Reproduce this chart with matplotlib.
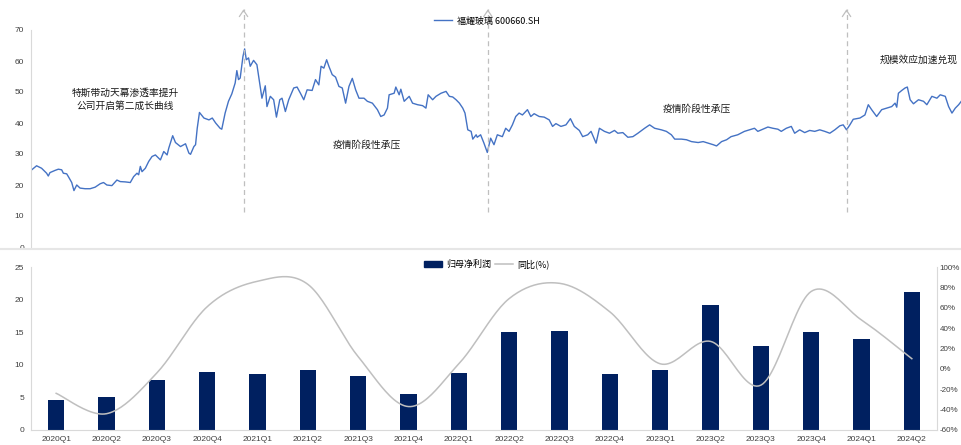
import numpy as np
import matplotlib
matplotlib.use("Agg")
import matplotlib.pyplot as plt
from matplotlib.lines import Line2D
from matplotlib.patches import Patch

plt.rcParams["font.family"] = ["Noto Sans CJK SC", "DejaVu Sans"]
NUM_FONT = "Liberation Sans"

# ---- 福耀玻璃 closing price (days counted from 2020-01-02) ----
trade_day = [
    0, 10, 19, 28, 31, 34, 43, 49, 55, 58, 64, 67, 73, 77, 82, 88, 97, 106, 115, 124,
    130, 136, 145, 154, 160, 169, 178, 184, 190, 193, 196, 199, 205, 211, 217, 223, 229, 232, 238, 244,
    247, 254, 259, 268, 277, 283, 286, 292, 295, 298, 302, 310, 319, 325, 331, 339, 342, 348, 354, 360,
    366, 369, 372, 375, 380, 383, 386, 390, 393, 399, 405, 410, 414, 420, 423, 429, 435, 440, 446, 450,
    456, 462, 471, 477, 483, 489, 495, 504, 510, 516, 520, 525, 530, 534, 540, 546, 552, 558, 564, 570,
    576, 582, 588, 597, 603, 612, 621, 627, 633, 639, 642, 651, 654, 660, 663, 669, 678, 684, 693, 702,
    708, 712, 720, 726, 735, 744, 750, 756, 762, 768, 774, 778, 783, 789, 792, 798, 800, 806,
    812, 818, 824, 830, 836, 845, 851, 857, 863, 869, 875, 881, 890, 896, 902, 911, 920, 929, 935, 941,
    950, 959, 967, 974, 983, 989, 998, 1004, 1013, 1019, 1028, 1037, 1046, 1052, 1061, 1070, 1079, 1088, 1100, 1109,
    1118, 1130, 1139, 1148, 1154, 1166, 1175, 1184, 1196, 1205, 1214, 1223, 1229, 1238, 1247, 1255, 1267, 1279, 1288, 1297,
    1303, 1312, 1321, 1330, 1339, 1345, 1354, 1363, 1369, 1378, 1387, 1396, 1405, 1414, 1423, 1432, 1441, 1450, 1456, 1462,
    1468, 1474, 1486, 1495, 1501, 1507, 1516, 1525, 1534, 1543, 1549, 1552, 1555, 1561, 1567, 1571, 1576, 1582, 1591, 1600,
    1606, 1615, 1624, 1630, 1639, 1645, 1651, 1657, 1663, 1669,
]
close_price = [
    24.7, 26.2, 25.4, 23.8, 22.9, 24.0, 24.7, 25.1, 24.9, 23.8, 23.6, 22.7, 20.8, 18.2, 20.0, 19.0, 18.8, 18.8, 19.3, 20.4,
    20.8, 20.0, 19.8, 21.6, 21.1, 21.0, 20.8, 22.7, 23.8, 23.3, 26.0, 24.3, 25.4, 27.6, 29.2, 29.7, 28.6, 28.1, 30.8, 29.7,
    31.9, 35.9, 33.7, 32.4, 33.3, 30.3, 29.9, 32.4, 33.0, 38.3, 43.4, 41.6, 41.0, 41.6, 40.0, 38.3, 38.0, 43.2, 47.0, 49.4,
    52.9, 56.9, 54.0, 54.5, 61.5, 63.9, 60.4, 61.0, 58.3, 60.2, 58.8, 52.9, 48.0, 52.0, 45.3, 48.6, 47.5, 41.9, 47.5, 48.0,
    43.7, 47.5, 51.3, 51.6, 49.6, 47.5, 50.7, 50.5, 54.0, 52.3, 58.3, 57.7, 60.4, 58.3, 55.6, 54.8, 51.8, 51.3, 46.4, 51.8,
    54.4, 50.7, 48.0, 48.0, 47.0, 46.4, 44.3, 42.1, 42.6, 44.8, 49.1, 49.6, 51.6, 49.1, 50.9, 47.0, 48.6, 46.4, 45.9, 45.6,
    44.8, 49.1, 47.5, 48.6, 49.6, 50.2, 48.6, 48.4, 47.5, 46.4, 44.8, 43.2, 37.8, 37.3, 34.8, 36.2, 35.4, 36.2,
    33.5, 30.5, 35.1, 33.0, 36.2, 35.6, 38.3, 37.3, 39.4, 42.1, 43.2, 42.6, 44.3, 42.1, 43.0, 42.1, 41.9, 41.0, 38.9, 39.8,
    38.9, 39.4, 41.4, 38.9, 37.6, 35.6, 36.2, 37.3, 33.5, 38.3, 37.3, 36.7, 37.6, 36.7, 36.9, 35.4, 35.6, 36.7, 38.3, 39.4,
    38.3, 37.8, 37.3, 36.2, 34.8, 34.8, 34.6, 34.0, 33.7, 34.0, 33.5, 33.0, 32.6, 34.0, 34.6, 35.6, 36.2, 37.3, 37.8, 38.3,
    37.3, 38.0, 38.7, 38.3, 38.0, 37.3, 38.3, 38.9, 36.7, 37.8, 36.9, 37.6, 37.3, 37.8, 37.3, 36.7, 37.8, 39.1, 39.4, 37.8,
    39.4, 41.2, 41.6, 42.6, 45.9, 44.3, 42.1, 44.3, 44.8, 45.3, 46.4, 45.1, 49.6, 50.5, 51.3, 51.6, 47.5, 46.2, 47.5, 47.0,
    45.9, 48.6, 48.0, 49.1, 48.6, 45.3, 43.2, 44.8, 45.9, 47.3,
]

# Turning points marked with dashed arrows (days from 2020-01-02)
arrow_days = [381, 819, 1462]

# Stage notes: (day, price level, text)
stage_notes = [
    (169, 47.7, "特斯带动天幕渗透率提升\n公司开启第二成长曲线"),
    (602, 33.0, "疫情阶段性承压"),
    (1193, 44.6, "疫情阶段性承压"),
    (1591, 60.4, "规模效应加速兑现"),
]

# ---- quarterly net profit attributable to parent (亿元) and YoY (%) ----
quarters = ["2020Q1", "2020Q2", "2020Q3", "2020Q4", "2021Q1", "2021Q2", "2021Q3", "2021Q4", "2022Q1",
            "2022Q2", "2022Q3", "2022Q4", "2023Q1", "2023Q2", "2023Q3", "2023Q4", "2024Q1", "2024Q2"]
net_profit = [4.6, 5.05, 7.6, 8.85, 8.6, 9.2, 8.3, 5.5, 8.75,
              15.1, 15.25, 8.6, 9.2, 19.2, 12.9, 15.0, 13.9, 21.1]
yoy_pct = [-24, -44, -4, 61, 86, 83, 12, -37, 5,
           69, 84, 56, 5, 27, -16, 76, 48, 10]

PRICE_BLUE = "#4472c4"
NAVY = "#002060"
LIGHT_GRAY = "#bfbfbf"
AXIS_GRAY = "#d9d9d9"
TICK_COLOR = "#404040"


def catmull_rom(x, y, steps=24):
    """Smoothed polyline through (x, y), like a spreadsheet 'smooth line'."""
    pts = np.column_stack([x, y]).astype(float)
    padded = np.vstack([pts[:1], pts, pts[-1:]])
    t = np.linspace(0, 1, steps, endpoint=False)[:, None]
    segs = []
    for i in range(1, len(padded) - 2):
        p0, p1, p2, p3 = padded[i - 1], padded[i], padded[i + 1], padded[i + 2]
        segs.append(0.5 * (2 * p1 + (p2 - p0) * t
                           + (2 * p0 - 5 * p1 + 4 * p2 - p3) * t ** 2
                           + (-p0 + 3 * p1 - 3 * p2 + p3) * t ** 3))
    segs.append(pts[-1:])
    out = np.vstack(segs)
    return out[:, 0], out[:, 1]


W, H = 962, 445
fig = plt.figure(figsize=(W / 100, H / 100), dpi=100)
ax1 = fig.add_axes([31 / W, 1 - 247 / H, 931 / W, 217 / H])
ax2 = fig.add_axes([31 / W, 1 - 430 / H, 906 / W, 163 / H])
ax2r = ax2.twinx()

# ---------------- price panel ----------------
ax1.plot(trade_day, close_price, color=PRICE_BLUE, lw=1.0)
ax1.set_xlim(trade_day[0], trade_day[-1])
ax1.set_ylim(0, 70)
ax1.set_yticks(range(0, 71, 10))
ax1.set_xticks([])
for side in ("top", "right", "bottom"):
    ax1.spines[side].set_visible(False)
ax1.spines["left"].set_color(AXIS_GRAY)
ax1.tick_params(axis="y", length=0, pad=5, labelsize=6, labelcolor=TICK_COLOR,
                labelfontfamily=NUM_FONT)

for d in arrow_days:
    ax1.plot([d, d], [11.3, 76.8], ls=(0, (4, 3)), color=LIGHT_GRAY, lw=0.9, clip_on=False)
    ax1.annotate("", xy=(d, 77.6), xytext=(d, 75.0),
                 arrowprops=dict(arrowstyle="->,head_length=0.45,head_width=0.3",
                                 color=LIGHT_GRAY, lw=0.9),
                 annotation_clip=False)

for d, v, txt in stage_notes:
    ax1.text(d, v, txt, ha="center", va="center", fontsize=7, color="#1a1a1a",
             linespacing=1.35)

ax1.legend(handles=[Line2D([], [], color=PRICE_BLUE, lw=1.0)],
           labels=["福耀玻璃 600660.SH"], loc="center",
           bbox_to_anchor=(487 / W, 1 - 21 / H), bbox_transform=fig.transFigure,
           frameon=False, fontsize=6.5, handlelength=2.0, handletextpad=0.6)

# ---------------- profit panel ----------------
x = np.arange(len(quarters))
ax2.bar(x, net_profit, width=0.32, color=NAVY, zorder=2)
ax2.set_xlim(-0.5, len(quarters) - 0.5)
ax2.set_ylim(0, 25)
ax2.set_yticks(range(0, 26, 5))
ax2.set_xticks(x, quarters)
ax2.spines["top"].set_visible(False)
ax2.spines["right"].set_visible(False)
ax2.spines["left"].set_color(AXIS_GRAY)
ax2.spines["bottom"].set_color(AXIS_GRAY)
ax2.tick_params(axis="both", length=0, labelsize=6, labelcolor=TICK_COLOR,
                labelfontfamily=NUM_FONT)
ax2.tick_params(axis="y", pad=5)
ax2.tick_params(axis="x", pad=4)

sx, sy = catmull_rom(x, yoy_pct)
ax2r.plot(sx, sy, color=LIGHT_GRAY, lw=1.1)
ax2r.set_ylim(-60, 100)
ax2r.set_yticks(range(-60, 101, 20))
ax2r.set_yticklabels([f"{v}%" for v in range(-60, 101, 20)])
for side in ("top", "left", "bottom"):
    ax2r.spines[side].set_visible(False)
ax2r.spines["right"].set_color(AXIS_GRAY)
ax2r.tick_params(axis="y", length=0, pad=2, labelsize=5.8, labelcolor=TICK_COLOR,
                 labelfontfamily=NUM_FONT)

ax2r.legend(handles=[Patch(color=NAVY), Line2D([], [], color=LIGHT_GRAY, lw=1.1)],
            labels=["归母净利润", "同比(%)"], loc="center", ncol=2,
            bbox_to_anchor=(487 / W, 1 - 264 / H), bbox_transform=fig.transFigure,
            frameon=False, fontsize=6.5, handlelength=2.0, handleheight=0.6,
            handletextpad=0.45, columnspacing=0.4)

# separator between the two panels
fig.add_artist(Line2D([0, 1], [1 - 249 / H] * 2, transform=fig.transFigure,
                      color="#e6e6e6", lw=1.5))

fig.savefig("out.png", dpi=100)
